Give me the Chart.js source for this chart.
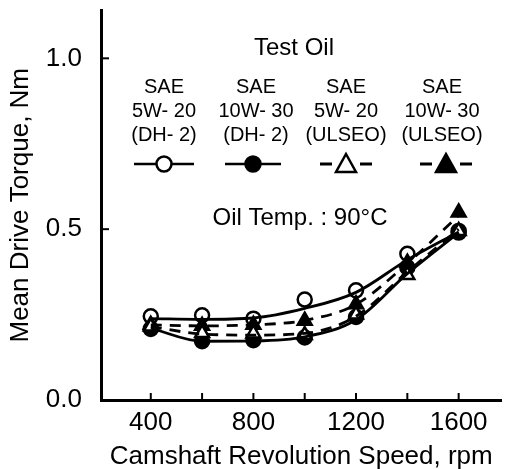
<!DOCTYPE html>
<html>
<head>
<meta charset="utf-8">
<script src="https://cdn.jsdelivr.net/npm/chart.js@4.4.1/dist/chart.umd.min.js"></script>
<style>
  html, body { margin: 0; padding: 0; background: #fff; }
  #wrap { width: 512px; height: 469px; }
</style>
</head>
<body>
<div id="wrap"><canvas id="torque-chart" width="512" height="469"></canvas></div>
<script>
// camshaft speed, rpm
const speeds = [400, 600, 800, 1000, 1200, 1400, 1600];

// measured points
const dh2_5w20 = [0.245, 0.248, 0.238, 0.294, 0.321, 0.428, 0.495];
const dh2_10w30 = [0.208, 0.172, 0.175, 0.183, 0.243, 0.388, 0.490];
const ulseo_5w20 = [0.215, 0.196, 0.195, 0.190, 0.250, 0.366, 0.495];
const ulseo_10w30 = [0.220, 0.217, 0.220, 0.232, 0.280, 0.402, 0.549];

// fitted curves as drawn in the figure
const fit_dh2_5w20 = [0.238, 0.236, 0.240, 0.268, 0.315, 0.410, 0.492];
const fit_dh2_10w30 = [0.210, 0.172, 0.173, 0.185, 0.235, 0.370, 0.490];
const fit_ulseo_5w20 = [0.215, 0.193, 0.190, 0.195, 0.245, 0.375, 0.500];
const fit_ulseo_10w30 = [0.220, 0.217, 0.220, 0.233, 0.280, 0.400, 0.540];

const xTickLabels = [400, 800, 1200, 1600];
const xTickMarks = [400, 600, 800, 1000, 1200, 1400, 1600];
const yTickLabels = [0.0, 0.5, 1.0];

const legendTitle = "Test Oil";
const oilMaker = ["SAE", "SAE", "SAE", "SAE"];
const oilGrade = ["5W- 20", "10W- 30", "5W- 20", "10W- 30"];
const oilType = ["(DH- 2)", "(DH- 2)", "(ULSEO)", "(ULSEO)"];
const tempNote = "Oil Temp. : 90°C";

const FONT = "'Liberation Sans', Arial, sans-serif";

function pts(arr) {
  return speeds.map((s, i) => ({ x: s, y: arr[i] }));
}

function curve(arr, dash) {
  return {
    type: "line",
    data: pts(arr),
    borderColor: "#000",
    borderWidth: 2.8,
    borderDash: dash,
    pointRadius: 0,
    tension: 0.4,
    cubicInterpolationMode: "monotone",
    fill: false,
  };
}

function marks(arr, style, filled, r) {
  return {
    type: "scatter",
    data: pts(arr),
    showLine: false,
    pointStyle: style,
    pointRadius: r,
    pointBackgroundColor: filled ? "#000" : "#fff",
    pointBorderColor: "#000",
    pointBorderWidth: 2.5,
  };
}

function noPad(s) {
  s.paddingTop = 0;
  s.paddingBottom = 0;
  s.paddingLeft = 0;
  s.paddingRight = 0;
}

// custom legend + tick marks drawn inside the axes
const decorations = {
  id: "decorations",
  afterDraw(chart) {
    const ctx = chart.ctx;
    const xs = chart.scales.x;
    const ys = chart.scales.y;
    ctx.save();
    ctx.strokeStyle = "#000";
    ctx.lineWidth = 2;
    xTickMarks.forEach((v) => {
      const px = xs.getPixelForValue(v);
      ctx.beginPath();
      ctx.moveTo(px, ys.bottom);
      ctx.lineTo(px, ys.bottom - 7);
      ctx.stroke();
    });
    yTickLabels.forEach((v) => {
      if (v === 0) return;
      const py = ys.getPixelForValue(v);
      ctx.beginPath();
      ctx.moveTo(xs.left, py);
      ctx.lineTo(xs.left + 8, py);
      ctx.stroke();
    });

    ctx.fillStyle = "#000";
    ctx.textAlign = "center";
    ctx.textBaseline = "middle";
    ctx.font = "24px " + FONT;
    ctx.fillText(legendTitle, 294, 48);
    ctx.fillText(tempNote, 300, 218);

    const colX = [164, 256, 346, 442];
    ctx.font = "20px " + FONT;
    colX.forEach((cx, i) => {
      ctx.fillText(oilMaker[i], cx, 87);
      ctx.fillText(oilGrade[i], cx, 111);
      ctx.fillText(oilType[i], cx, 135);
    });

    const my = 164;
    ctx.lineWidth = 2.5;
    // solid line samples
    [[164, 30, false], [253, 28, true]].forEach(([cx, half, filled]) => {
      ctx.beginPath();
      ctx.moveTo(cx - half, my);
      ctx.lineTo(cx + half, my);
      ctx.stroke();
      ctx.beginPath();
      ctx.arc(cx, my, 7.5, 0, Math.PI * 2);
      ctx.fillStyle = filled ? "#000" : "#fff";
      ctx.fill();
      ctx.stroke();
    });
    // dashed samples
    [[346, false], [446, true]].forEach(([cx, filled]) => {
      ctx.lineWidth = 3;
      ctx.beginPath();
      ctx.moveTo(cx - 26, my);
      ctx.lineTo(cx - 14, my);
      ctx.moveTo(cx + 14, my);
      ctx.lineTo(cx + 26, my);
      ctx.stroke();
      ctx.lineWidth = 2.5;
      ctx.beginPath();
      ctx.moveTo(cx, my - 10);
      ctx.lineTo(cx + 10, my + 8);
      ctx.lineTo(cx - 10, my + 8);
      ctx.closePath();
      ctx.fillStyle = filled ? "#000" : "#fff";
      ctx.fill();
      ctx.stroke();
    });
    ctx.restore();
  },
};

const ctx = document.getElementById("torque-chart");
new Chart(ctx, {
  data: {
    datasets: [
      curve(fit_dh2_5w20, []),
      curve(fit_dh2_10w30, []),
      curve(fit_ulseo_5w20, [11, 8]),
      curve(fit_ulseo_10w30, [11, 8]),
      marks(ulseo_5w20, "triangle", false, 8),
      marks(ulseo_10w30, "triangle", true, 8),
      marks(dh2_10w30, "circle", true, 7),
      marks(dh2_5w20, "circle", false, 7),
    ],
  },
  options: {
    responsive: false,
    animation: false,
    layout: { padding: { top: 10, right: 0, left: 0, bottom: 0 } },
    plugins: {
      legend: { display: false },
      tooltip: { enabled: false },
    },
    scales: {
      x: {
        type: "linear",
        min: 206,
        max: 1767,
        afterBuildTicks: (s) => { s.ticks = xTickLabels.map((v) => ({ value: v })); },
        afterFit: (s) => { s.height = 69; noPad(s); },
        grid: { display: false, drawTicks: false },
        border: { display: true, color: "#000", width: 3 },
        ticks: {
          color: "#000",
          font: { family: FONT, size: 26 },
          padding: 7,
          maxRotation: 0,
          autoSkip: false,
          callback: (v) => String(v),
        },
        title: {
          display: true,
          text: "Camshaft Revolution Speed, rpm",
          color: "#000",
          font: { family: FONT, size: 26, lineHeight: 1 },
          padding: { top: 0, bottom: -1 },
        },
      },
      y: {
        type: "linear",
        min: 0,
        max: 1.14,
        afterBuildTicks: (s) => { s.ticks = yTickLabels.map((v) => ({ value: v })); },
        afterFit: (s) => { s.width = 101; noPad(s); },
        grid: { display: false, drawTicks: false },
        border: { display: true, color: "#000", width: 3 },
        ticks: {
          color: "#000",
          font: { family: FONT, size: 26 },
          padding: 19,
          callback: (v) => Number(v).toFixed(1),
        },
        title: {
          display: true,
          text: "Mean Drive Torque, Nm",
          color: "#000",
          font: { family: FONT, size: 26 },
          padding: { top: 5, bottom: 0 },
        },
      },
    },
  },
  plugins: [decorations],
});
</script>
</body>
</html>
